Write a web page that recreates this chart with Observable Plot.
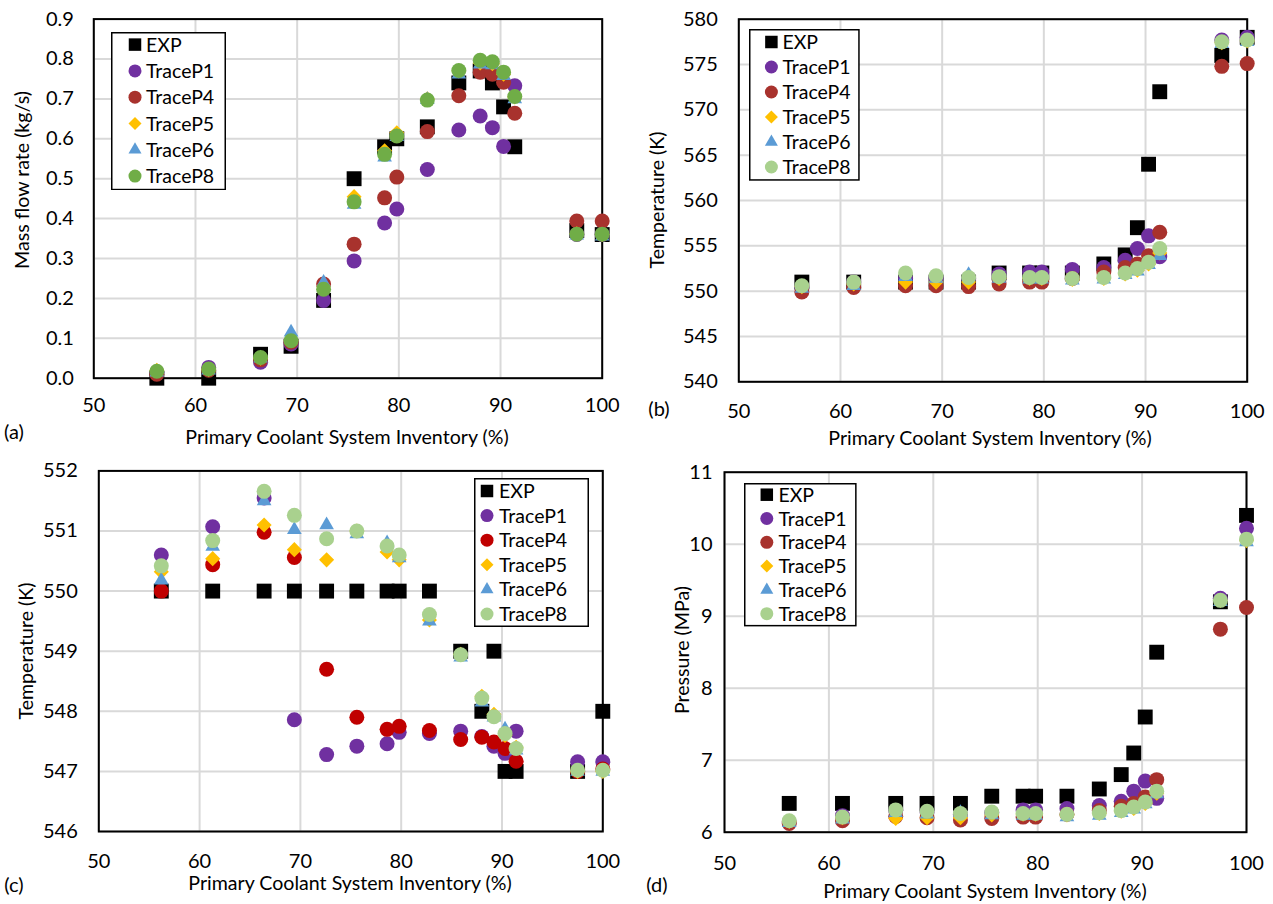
<!DOCTYPE html>
<html>
<head>
<meta charset="utf-8">
<script src="https://cdn.jsdelivr.net/npm/d3@7"></script>
<script src="https://cdn.jsdelivr.net/npm/@observablehq/plot@0.6"></script>
<style>
  body { margin: 0; background: #fff; }
  #root { position: relative; width: 1273px; height: 904px; overflow: hidden; background: #fff; font-family: Lato, "Open Sans", sans-serif; }
  .abs { position: absolute; }
  .t { position: absolute; white-space: nowrap; font-size: 18px; color: #000; transform: translate(-50%, -50%); line-height: 1; }
  .ty { transform: translate(-50%, -50%) rotate(-90deg); }
</style>
</head>
<body>
<div id="root"></div>
<script>
// ---------- data ----------
const inventory = [56.2, 61.3, 66.4, 69.4, 72.6, 75.6, 78.6, 79.8, 82.8, 85.9, 88.0, 89.2, 90.3, 91.4, 97.5, 100];
const seriesNames = ["EXP", "TraceP1", "TraceP4", "TraceP5", "TraceP6", "TraceP8"];
const xTicks = [50, 60, 70, 80, 90, 100];

// (a) mass flow rate (kg/s)
const flowTicks = [0, 0.1, 0.2, 0.3, 0.4, 0.5, 0.6, 0.7, 0.8, 0.9];
const flowEXP = [0.00, 0.00, 0.06, 0.08, 0.195, 0.50, 0.58, 0.60, 0.63, 0.74, 0.77, 0.74, 0.68, 0.58, 0.37, 0.36];
const flowP1  = [0.015, 0.027, 0.04, 0.086, 0.195, 0.294, 0.389, 0.424, 0.523, 0.622, 0.657, 0.628, 0.581, 0.733, 0.36, 0.36];
const flowP4  = [0.01, 0.02, 0.046, 0.09, 0.236, 0.336, 0.452, 0.504, 0.618, 0.708, 0.767, 0.762, 0.742, 0.664, 0.394, 0.394];
const flowP5  = [0.02, 0.022, 0.05, 0.095, 0.23, 0.455, 0.57, 0.615, 0.70, 0.77, 0.79, 0.788, 0.762, 0.705, 0.362, 0.36];
const flowP6  = [0.015, 0.02, 0.05, 0.115, 0.24, 0.435, 0.554, 0.605, 0.698, 0.762, 0.787, 0.785, 0.758, 0.70, 0.358, 0.356];
const flowP8  = [0.0175, 0.023, 0.052, 0.094, 0.223, 0.442, 0.561, 0.607, 0.697, 0.771, 0.797, 0.793, 0.767, 0.706, 0.361, 0.361];

// (b) temperature (K)
const tempBTicks = [540, 545, 550, 555, 560, 565, 570, 575, 580];
const tempBEXP = [551, 551, 551, 551, 551, 552, 552, 552, 552, 553, 554, 557, 564, 572, 576, 578];
const tempBP1  = [550.4, 551.0, 551.4, 551.4, 551.4, 551.9, 552.1, 552.1, 552.4, 552.6, 553.4, 554.7, 556.1, 553.8, 577.7, 578.0];
const tempBP4  = [549.9, 550.4, 550.6, 550.6, 550.5, 550.8, 551.0, 551.0, 551.4, 552.1, 552.6, 553.0, 553.9, 556.5, 574.8, 575.1];
const tempBP5  = [550.5, 550.8, 551.0, 551.0, 551.0, 551.4, 551.4, 551.4, 551.3, 551.4, 551.9, 552.3, 553.0, 554.2, 577.4, 577.6];
const tempBP6  = [550.3, 550.6, 551.6, 551.4, 551.8, 551.4, 551.3, 551.3, 551.2, 551.3, 551.8, 552.2, 552.9, 553.9, 577.3, 577.5];
const tempBP8  = [550.6, 551.0, 552.0, 551.7, 551.5, 551.6, 551.5, 551.5, 551.4, 551.5, 552.0, 552.5, 553.2, 554.7, 577.5, 577.7];

// (c) temperature (K)
const tempCTicks = [546, 547, 548, 549, 550, 551, 552];
const tempCEXP = [550, 550, 550, 550, 550, 550, 550, 550, 550, 549, 548, 549, 547, 547, 547, 548];
const tempCP1  = [550.60, 551.07, 551.55, 547.86, 547.28, 547.42, 547.46, 547.65, 547.63, 547.67, 547.58, 547.42, 547.30, 547.67, 547.16, 547.16];
const tempCP4  = [550.00, 550.44, 550.98, 550.56, 548.70, 547.90, 547.70, 547.75, 547.68, 547.53, 547.57, 547.49, 547.38, 547.17, 547.00, 547.04];
const tempCP5  = [550.32, 550.54, 551.10, 550.69, 550.52, 551.00, 550.65, 550.52, 549.52, 548.95, 548.25, 547.95, 547.60, 547.40, 547.00, 547.00];
const tempCP6  = [550.18, 550.74, 551.50, 551.02, 551.10, 550.95, 550.80, 550.55, 549.50, 548.90, 548.15, 547.90, 547.70, 547.35, 547.00, 547.00];
const tempCP8  = [550.42, 550.84, 551.66, 551.26, 550.87, 551.00, 550.75, 550.60, 549.61, 548.94, 548.22, 547.91, 547.63, 547.38, 547.02, 547.02];

// (d) pressure (MPa)
const pressTicks = [6, 7, 8, 9, 10, 11];
const pressEXP = [6.4, 6.4, 6.4, 6.4, 6.4, 6.5, 6.5, 6.5, 6.5, 6.6, 6.8, 7.1, 7.6, 8.5, 9.2, 10.4];
const pressP1  = [6.14, 6.23, 6.30, 6.28, 6.25, 6.27, 6.31, 6.31, 6.33, 6.37, 6.43, 6.57, 6.71, 6.47, 9.25, 10.22];
const pressP4  = [6.12, 6.16, 6.22, 6.20, 6.17, 6.19, 6.21, 6.21, 6.25, 6.30, 6.36, 6.40, 6.49, 6.73, 8.82, 9.12];
const pressP5  = [6.15, 6.20, 6.19, 6.20, 6.20, 6.24, 6.25, 6.25, 6.24, 6.26, 6.29, 6.33, 6.40, 6.54, 9.22, 10.05];
const pressP6  = [6.13, 6.18, 6.27, 6.25, 6.27, 6.24, 6.23, 6.23, 6.21, 6.23, 6.27, 6.32, 6.39, 6.53, 9.20, 10.03];
const pressP8  = [6.16, 6.21, 6.31, 6.29, 6.26, 6.28, 6.26, 6.26, 6.25, 6.27, 6.30, 6.35, 6.42, 6.57, 9.22, 10.07];

// ---------- styling ----------
const plotSymbols = ["square", "circle", "circle", "diamond2", "triangle2", "circle"];
const plotRadii = [8.4, 7.5, 7.5, 6.8, 7.0, 7.5];
const d3Symbols = [d3.symbolSquare, d3.symbolCircle, d3.symbolCircle, d3.symbolDiamond2, d3.symbolTriangle2, d3.symbolCircle];
const legendSizes = [156, 133, 133, 108, 121, 133];
const colorsA = ["#000000", "#7030A0", "#A8322D", "#FFC000", "#5B9BD5", "#70AD47"];
const colorsB = ["#000000", "#7030A0", "#A8322D", "#FFC000", "#5B9BD5", "#A9D18E"];
const colorsC = ["#000000", "#7030A0", "#C00000", "#FFC000", "#5B9BD5", "#A9D18E"];
const colorsD = ["#000000", "#7030A0", "#A8322D", "#FFC000", "#5B9BD5", "#A9D18E"];
const FONT = "Lato, 'Open Sans', sans-serif";
const TITLE_SIZE = 19.6;

const panels = [
  { series: [flowEXP, flowP1, flowP4, flowP5, flowP6, flowP8], colors: colorsA, yDomain: [0, 0.9], yTicks: flowTicks, yFmt: d => d.toFixed(1),
    box: {left: 0, top: 0, w: 636, h: 452}, frame: {l: 93.3, r: 601.7, t: 18.6, b: 377.7}, xPad: 19.5, yPad: 20,
    yTitle: "Mass flow rate (kg/s)", yTitlePos: [22, 180], xTitlePos: [347, 437], tag: "(a)", tagPos: [14, 431],
    legend: {x: 111, y: 31.7, w: 115, h: 158.3, row0: 12.6, dy: 26.3, mx: 24, tx: 35} },
  { series: [tempBEXP, tempBP1, tempBP4, tempBP5, tempBP6, tempBP8], colors: colorsB, yDomain: [540, 580], yTicks: tempBTicks, yFmt: d => String(d),
    box: {left: 636, top: 0, w: 637, h: 452}, frame: {l: 738.3, r: 1246.7, t: 18.7, b: 381.3}, xPad: 21.7, yPad: 21,
    yTitle: "Temperature (K)", yTitlePos: [657, 200], xTitlePos: [990, 438], tag: "(b)", tagPos: [659, 408],
    legend: {x: 749.3, y: 29.3, w: 110.7, h: 151.7, row0: 13, dy: 25, mx: 22.4, tx: 33.4} },
  { series: [tempCEXP, tempCP1, tempCP4, tempCP5, tempCP6, tempCP8], colors: colorsC, yDomain: [546, 552], yTicks: tempCTicks, yFmt: d => String(d),
    box: {left: 0, top: 452, w: 636, h: 452}, frame: {l: 98.3, r: 602.3, t: 470.4, b: 831}, xPad: 22, yPad: 21,
    yTitle: "Temperature (K)", yTitlePos: [26, 651], xTitlePos: [350, 883], tag: "(c)", tagPos: [14, 884],
    legend: {x: 474, y: 478, w: 115, h: 149, row0: 13, dy: 24.6, mx: 13, tx: 25} },
  { series: [pressEXP, pressP1, pressP4, pressP5, pressP6, pressP8], colors: colorsD, yDomain: [6, 11], yTicks: pressTicks, yFmt: d => String(d),
    box: {left: 636, top: 452, w: 637, h: 452}, frame: {l: 724, r: 1246, t: 471.7, b: 831.7}, xPad: 23.3, yPad: 12,
    yTitle: "Pressure (MPa)", yTitlePos: [682, 650], xTitlePos: [985, 891], tag: "(d)", tagPos: [657, 884],
    legend: {x: 744, y: 483.3, w: 112.6, h: 143.4, row0: 11.7, dy: 23.8, mx: 22.8, tx: 34.4} }
];

const root = document.getElementById("root");

function addText(txt, pos, rotate, size) {
  const d = document.createElement("div");
  d.className = "t" + (rotate ? " ty" : "");
  d.style.left = pos[0] + "px";
  d.style.top = pos[1] + "px";
  d.style.fontSize = (size || 18) + "px";
  d.style.fontFamily = FONT;
  d.textContent = txt;
  root.appendChild(d);
}

function addLegend(cfg, colors) {
  const svg = d3.select(root).append("svg").attr("class", "abs")
    .style("left", cfg.x + "px").style("top", cfg.y + "px")
    .attr("width", cfg.w).attr("height", cfg.h);
  svg.append("rect").attr("x", 0.75).attr("y", 0.75).attr("width", cfg.w - 1.5).attr("height", cfg.h - 1.5)
    .attr("fill", "#fff").attr("stroke", "#000").attr("stroke-width", 1.5);
  seriesNames.forEach((name, k) => {
    const cy = cfg.row0 + k * cfg.dy;
    svg.append("path").attr("transform", `translate(${cfg.mx},${cy})`)
      .attr("d", d3.symbol(d3Symbols[k], legendSizes[k])()).attr("fill", colors[k]);
    svg.append("text").attr("x", cfg.tx).attr("y", cy).attr("dy", "0.36em")
      .style("font-family", FONT).style("font-size", "19.5px").attr("fill", "#000").text(name);
  });
}

for (const p of panels) {
  const {box, frame} = p;
  const marginLeft = frame.l - box.left;
  const marginRight = box.left + box.w - frame.r;
  const marginTop = frame.t - box.top;
  const marginBottom = box.top + box.h - frame.b;

  const dots = p.series.map((vals, k) => Plot.dot(
    inventory.map((x, i) => ({inventory: x, value: vals[i], series: seriesNames[k]})),
    {x: "inventory", y: "value", symbol: plotSymbols[k], r: plotRadii[k], fill: p.colors[k], stroke: "none"}
  ));

  const chart = Plot.plot({
    width: box.w, height: box.h,
    marginLeft, marginRight, marginTop, marginBottom,
    style: {fontFamily: FONT, fontSize: "20px", color: "#000", background: "transparent", overflow: "visible"},
    x: {domain: [50, 100]},
    y: {domain: p.yDomain},
    marks: [
      Plot.gridX(xTicks, {stroke: "#D9D9D9", strokeOpacity: 1, strokeWidth: 2}),
      Plot.gridY(p.yTicks, {stroke: "#D9D9D9", strokeOpacity: 1, strokeWidth: 2}),
      Plot.frame({stroke: "#000", strokeWidth: 2}),
      Plot.axisX(xTicks, {tickSize: 0, tickPadding: p.xPad, label: null, fontSize: 20}),
      Plot.axisY(p.yTicks, {tickSize: 0, tickPadding: p.yPad, label: null, fontSize: 20, tickFormat: p.yFmt}),
      ...dots
    ]
  });
  const wrap = document.createElement("div");
  wrap.className = "abs";
  wrap.style.left = box.left + "px";
  wrap.style.top = box.top + "px";
  wrap.appendChild(chart);
  root.appendChild(wrap);

  addLegend(p.legend, p.colors);
  addText(p.yTitle, p.yTitlePos, true, TITLE_SIZE);
  addText("Primary Coolant System Inventory (%)", p.xTitlePos, false, TITLE_SIZE);
  addText(p.tag, p.tagPos, false, 20);
}
</script>
</body>
</html>
